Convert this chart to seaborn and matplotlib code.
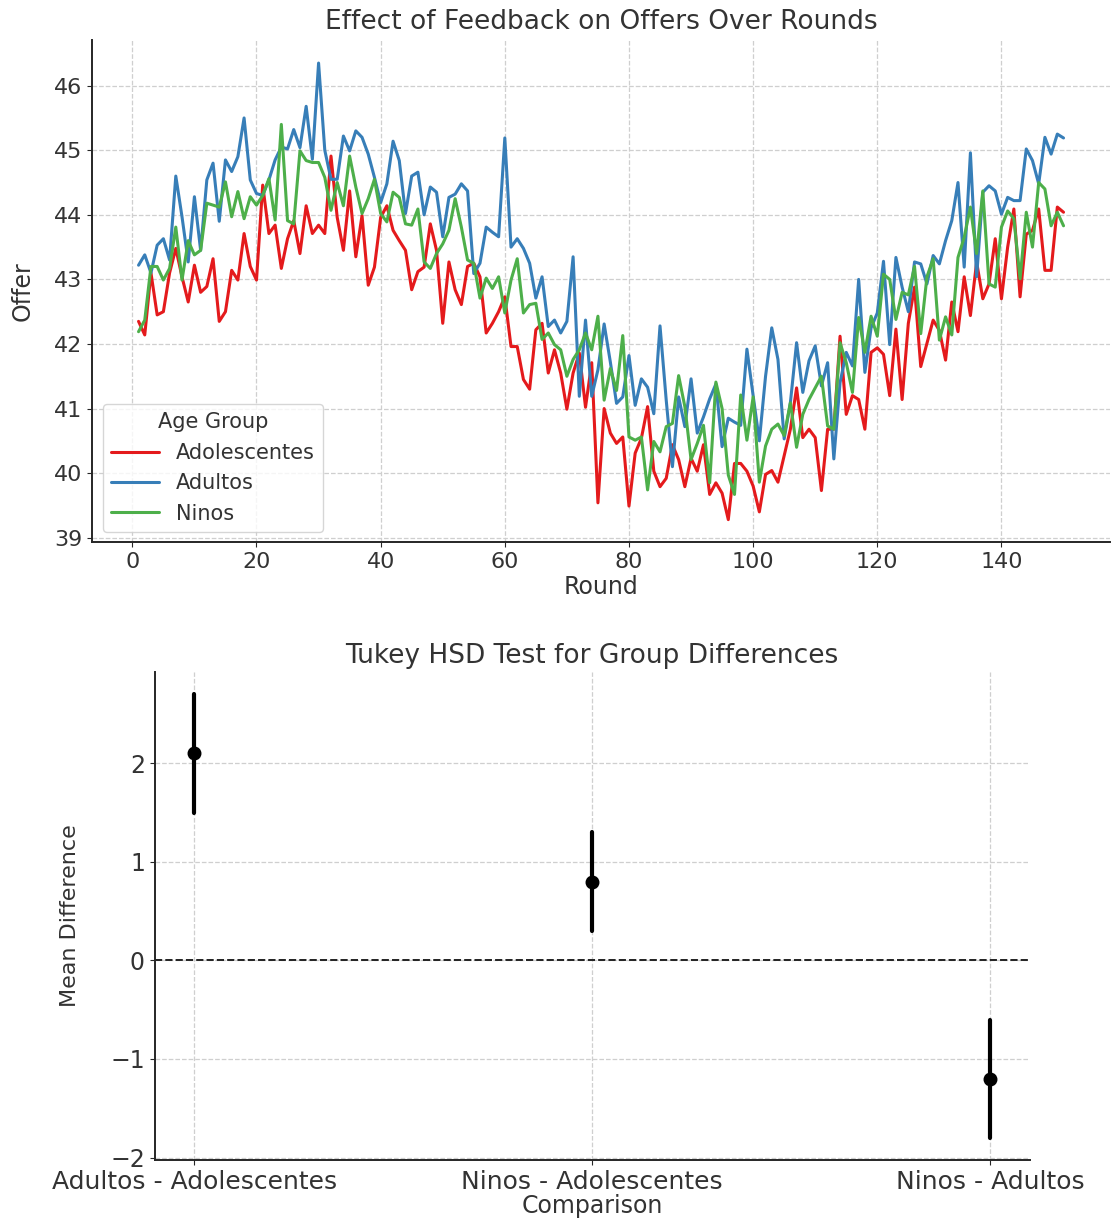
import matplotlib
matplotlib.use("Agg")
import matplotlib.pyplot as plt
import numpy as np
import pandas as pd
import seaborn as sns

# ---------------- data ----------------
rounds = list(range(1, 151))

adolescentes = [
    42.35, 42.14, 43.10, 42.45, 42.50, 43.10, 43.48, 43.04, 42.65, 43.22,
    42.80, 42.89, 43.32, 42.35, 42.50, 43.14, 42.99, 43.71, 43.20, 42.99,
    44.46, 43.71, 43.84, 43.17, 43.63, 43.91, 43.40, 44.14, 43.71, 43.84,
    43.71, 44.91, 43.96, 43.45, 44.37, 43.35, 43.99, 42.91, 43.19, 43.96,
    44.14, 43.76, 43.60, 43.45, 42.84, 43.12, 43.19, 43.86, 43.45, 42.32,
    43.27, 42.84, 42.61, 43.20, 43.25, 43.04, 42.17, 42.32, 42.50, 42.73,
    41.96, 41.96, 41.45, 41.30, 42.22, 42.32, 41.55, 41.91, 41.55, 40.99,
    41.55, 41.86, 41.02, 41.71, 39.54, 41.00, 40.62, 40.46, 40.56, 39.49,
    40.31, 40.54, 41.03, 40.03, 39.79, 39.92, 40.44, 40.21, 39.79, 40.23,
    40.03, 40.44, 39.67, 39.85, 39.69, 39.28, 40.15, 40.15, 40.03, 39.80,
    39.40, 39.98, 40.04, 39.86, 40.27, 40.68, 41.32, 40.55, 40.68, 40.55,
    39.73, 40.68, 40.68, 42.12, 40.91, 41.20, 41.14, 40.68, 41.87, 41.94,
    41.84, 41.20, 42.23, 41.14, 42.32, 42.88, 41.65, 42.01, 42.37, 42.21,
    41.75, 42.65, 42.19, 43.04, 42.44, 43.27, 42.70, 42.93, 43.63, 42.70,
    43.50, 44.09, 42.73, 43.70, 43.76, 44.09, 43.14, 43.14, 44.12, 44.04,
]

adultos = [
    43.22, 43.38, 43.10, 43.53, 43.63, 43.30, 44.60, 43.97, 43.27, 44.28,
    43.45, 44.54, 44.80, 43.90, 44.85, 44.67, 44.90, 45.50, 44.54, 44.33,
    44.30, 44.54, 44.85, 45.05, 45.02, 45.32, 45.04, 45.68, 44.86, 46.35,
    45.00, 44.55, 44.55, 45.22, 44.99, 45.30, 45.20, 44.94, 44.58, 44.19,
    44.48, 45.14, 44.84, 44.02, 44.60, 44.66, 44.00, 44.43, 44.35, 43.66,
    44.27, 44.32, 44.48, 44.37, 43.09, 43.25, 43.81, 43.73, 43.66, 45.19,
    43.50, 43.63, 43.48, 43.25, 42.71, 43.04, 42.27, 42.37, 42.17, 42.35,
    43.35, 41.19, 42.37, 41.19, 41.60, 42.31, 41.72, 41.08, 41.18, 41.82,
    41.05, 41.46, 41.33, 40.92, 42.28, 41.13, 40.10, 41.18, 40.72, 41.46,
    40.62, 40.87, 41.15, 41.38, 40.41, 40.85, 40.79, 40.74, 41.92, 41.20,
    40.50, 41.50, 42.25, 41.76, 40.53, 41.09, 42.02, 41.25, 41.74, 41.97,
    41.35, 41.71, 40.22, 41.40, 41.87, 41.66, 43.00, 41.56, 42.25, 42.48,
    43.28, 41.99, 43.34, 42.88, 42.50, 43.27, 43.24, 42.93, 43.37, 43.24,
    43.60, 43.91, 44.50, 43.19, 44.96, 43.04, 44.35, 44.45, 44.37, 44.01,
    44.27, 44.22, 44.22, 45.02, 44.84, 44.48, 45.20, 44.94, 45.25, 45.19,
]

ninos = [
    42.19, 42.37, 43.20, 43.20, 42.99, 43.17, 43.81, 42.99, 43.60, 43.38,
    43.45, 44.18, 44.15, 44.12, 44.51, 43.97, 44.36, 43.94, 44.28, 44.15,
    44.30, 44.56, 43.92, 45.40, 43.91, 43.86, 44.99, 44.84, 44.81, 44.81,
    44.58, 44.07, 44.50, 44.14, 44.91, 44.43, 44.02, 44.25, 44.55, 44.02,
    43.89, 44.35, 44.27, 43.86, 43.84, 44.09, 43.27, 43.17, 43.40, 43.55,
    43.76, 44.25, 43.81, 43.30, 43.25, 42.71, 43.02, 42.86, 43.04, 42.48,
    42.99, 43.32, 42.48, 42.61, 42.63, 42.07, 42.17, 41.99, 41.91, 41.50,
    41.76, 41.91, 42.17, 41.91, 42.43, 41.13, 41.62, 41.28, 42.13, 40.56,
    40.51, 40.56, 39.74, 40.49, 40.33, 40.72, 40.77, 41.51, 41.03, 40.21,
    40.46, 40.74, 39.85, 41.41, 41.00, 39.97, 39.67, 41.21, 40.51, 41.18,
    39.86, 40.42, 40.68, 40.76, 40.58, 41.09, 40.40, 40.91, 41.14, 41.32,
    41.50, 40.73, 40.68, 42.02, 41.71, 41.25, 42.41, 41.87, 42.43, 42.12,
    43.08, 43.00, 42.38, 42.80, 42.76, 43.20, 42.16, 43.04, 43.32, 42.06,
    42.42, 42.14, 43.34, 43.65, 44.12, 43.40, 44.37, 42.93, 42.88, 43.81,
    44.06, 43.94, 43.01, 44.04, 43.50, 44.50, 44.40, 43.83, 44.04, 43.83,
]

group_names = ["Adolescentes", "Adultos", "Ninos"]

comparisons = ["Adultos - Adolescentes", "Ninos - Adolescentes", "Ninos - Adultos"]
mean_diff = [2.1, 0.8, -1.2]
ci_lower = [1.5, 0.3, -1.8]
ci_upper = [2.7, 1.3, -0.6]

# ---------------- figure ----------------
sns.set_style("ticks")
plt.rcParams["font.family"] = ["DejaVu Sans"]
plt.rcParams["axes.linewidth"] = 1.4

fig = plt.figure(figsize=(11.12, 12.19), dpi=100)
ax1 = fig.add_axes([0.083, 0.555, 0.915, 0.412])
ax2 = fig.add_axes([0.139, 0.048, 0.787, 0.401])

grid_kw = dict(linestyle="--", color="#cfcfcf", linewidth=0.9)
txt_col = "#333333"

# ---- top: lines ----
df = pd.DataFrame({
    "Round": rounds * 3,
    "Offer": adolescentes + adultos + ninos,
    "Age Group": sum([[g] * len(rounds) for g in group_names], []),
})
sns.lineplot(data=df, x="Round", y="Offer", hue="Age Group",
             hue_order=group_names, palette="Set1", linewidth=2.2, ax=ax1)
ax1.set_axisbelow(True)
ax1.grid(True, **grid_kw)
ax1.set_xticks([0, 20, 40, 60, 80, 100, 120, 140])
ax1.set_yticks([39, 40, 41, 42, 43, 44, 45, 46])
ax1.tick_params(labelsize=16, labelcolor=txt_col)
ax1.set_title("Effect of Feedback on Offers Over Rounds", fontsize=19,
              color=txt_col, pad=8)
ax1.set_xlabel("Round", fontsize=17, color=txt_col, labelpad=2)
ax1.set_ylabel("Offer", fontsize=17, color=txt_col, labelpad=14)
sns.despine(ax=ax1)
handles, labels = ax1.get_legend_handles_labels()
leg = ax1.legend(handles, labels, title="Age Group", loc="lower left",
                 fontsize=15, title_fontsize=15, frameon=True,
                 handlelength=2.3, borderaxespad=0.5, labelcolor=txt_col)
leg.get_title().set_color(txt_col)
leg.get_frame().set_edgecolor("#cccccc")

# ---- bottom: Tukey HSD ----
df2 = pd.DataFrame({
    "Comparison": comparisons * 3,
    "Mean Difference": ci_lower + mean_diff + ci_upper,
})
sns.pointplot(data=df2, x="Comparison", y="Mean Difference", order=comparisons,
              estimator="median", errorbar=("pi", 100), color="black",
              markers="o", linestyle="none", markersize=8,
              err_kws={"linewidth": 3}, ax=ax2)
ax2.axhline(0, color="#222222", linestyle="--", linewidth=1.4)
ax2.set_axisbelow(True)
ax2.grid(True, **grid_kw)
ax2.set_xlim(-0.1, 2.1)
ax2.set_ylim(-2.03, 2.93)
ax2.set_yticks([-2, -1, 0, 1, 2])
ax2.tick_params(axis="y", labelsize=17, labelcolor=txt_col)
ax2.tick_params(axis="x", labelsize=18, labelcolor=txt_col)
ax2.set_title("Tukey HSD Test for Group Differences", fontsize=19, color=txt_col)
ax2.set_xlabel("Comparison", fontsize=17, color=txt_col, labelpad=0)
ax2.set_ylabel("Mean Difference", fontsize=16, color=txt_col, labelpad=22)
sns.despine(ax=ax2)

fig.savefig("out.png", dpi=100)
